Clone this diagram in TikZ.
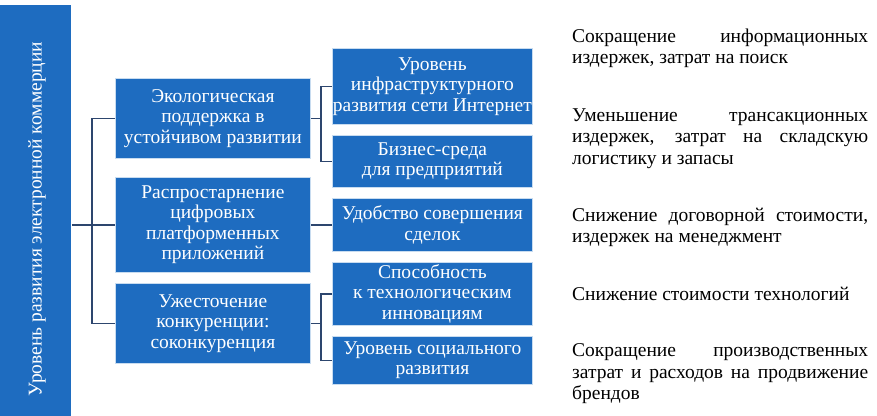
\documentclass[tikz,border=0pt]{standalone}
\usepackage{fontspec}
\setmainfont{Liberation Serif}
\newfontfamily\tnr{Liberation Serif}
\definecolor{boxblue}{RGB}{30,108,192}
\definecolor{boxedge}{RGB}{200,220,240}
\definecolor{lineblue}{RGB}{45,70,110}
\begin{document}
\begin{tikzpicture}[x=1pt,y=-1pt,
  bx/.style={draw=boxedge, line width=0.8pt, fill=boxblue, text=white, align=center,
    font=\tnr\fontsize{19.5}{20.5}\selectfont, inner sep=0pt, anchor=north west, minimum width=#1},
  bx/.default=195pt,
  conn/.style={draw=lineblue, line width=1.2pt},
  rtext/.style={anchor=north west, inner sep=0pt, text width=296pt, align=justify,
    font=\tnr\fontsize{19.5}{21.5}\selectfont, text=black}]
\useasboundingbox (0,0) rectangle (877,415);
% left bar
\node[bx=71pt, minimum height=412pt, draw=none] (L) at (0,5) {};
\node[rotate=90, text=white, font=\tnr\fontsize{19.5}{20}\selectfont, inner sep=0pt] (Lt) at (37,219) {Уровень развития электронной коммерции};
% middle boxes
\node[bx, minimum height=80pt] (M1) at (115,78) {Экологическая\\поддержка в\\устойчивом развитии};
\node[bx, minimum height=95pt] (M2) at (115,177) {Распростарнение\\цифровых\\платформенных\\приложений};
\node[bx, minimum height=80pt] (M3) at (115,283) {Ужесточение\\конкуренции:\\соконкуренция};
% right boxes
\node[bx=200pt, minimum height=76pt] (R1) at (332,48) {Уровень\\инфраструктурного\\развития сети Интернет};
\node[bx=200pt, minimum height=52pt] (R2) at (332,135) {Бизнес-среда\\для предприятий};
\node[bx=200pt, minimum height=53pt] (R3) at (332,198) {Удобство совершения\\сделок};
\node[bx=200pt, minimum height=63pt] (R4) at (332,262) {Способность\\к технологическим\\инновациям};
\node[bx=200pt, minimum height=48pt] (R5) at (332,336) {Уровень социального\\развития};
% connectors
\coordinate (bus) at (92,0);
\coordinate (rb) at (321,0);
\draw[conn] (L.east |- M2.west) -- (bus |- M2.west);
\draw[conn] (M1.west) -- (bus |- M1.west) -- (bus |- M3.west) -- (M3.west);
\draw[conn] (bus |- M2.west) -- (M2.west);
\draw[conn] (M1.east) -- (rb |- M1.east);
\draw[conn] (R1.west) -- (rb |- R1.west) -- (rb |- R2.west) -- (R2.west);
\draw[conn] (M2.east) -- (R3.west);
\draw[conn] (M3.east) -- (rb |- M3.east);
\draw[conn] (R4.west) -- (rb |- R4.west) -- (rb |- R5.west) -- (R5.west);
% right texts
\node[rtext] (T1) at (572,28.5) {Сокращение информационных\linebreak издержек, затрат на поиск};
\node[rtext] (T2) at (572,108.5) {Уменьшение трансакционных\linebreak издержек, затрат на складскую\linebreak логистику и запасы};
\node[rtext] (T3) at (572,207.5) {Снижение договорной стоимости,\linebreak издержек на менеджмент};
\node[rtext] (T4) at (572,286.5) {Снижение стоимости технологий};
\node[rtext] (T5) at (572,343.5) {Сокращение производственных\linebreak затрат и расходов на продвижение\linebreak брендов};
\end{tikzpicture}
\end{document}
